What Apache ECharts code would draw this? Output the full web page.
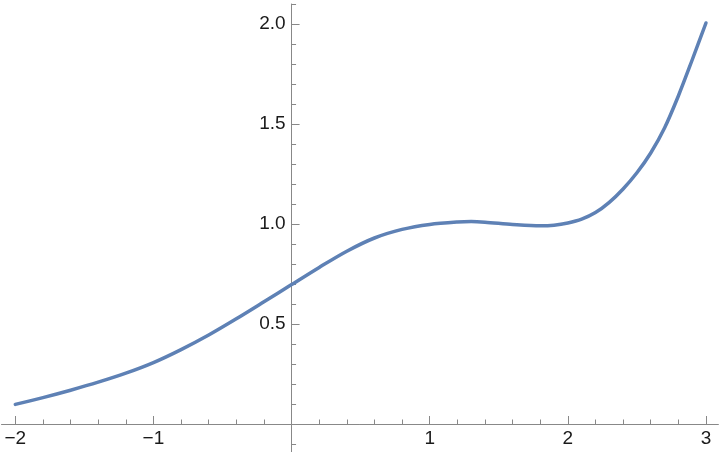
<!DOCTYPE html>
<html>
<head>
<meta charset="utf-8">
<script src="https://cdn.jsdelivr.net/npm/echarts@6/dist/echarts.min.js"></script>
<style>
html,body{margin:0;padding:0;background:#fff;}
#chart{width:720px;height:452px;}
</style>
</head>
<body>
<div id="chart"></div>
<script>
var xValues = [-2.0, -1.8, -1.6, -1.4, -1.2, -1.0, -0.8, -0.6, -0.4, -0.2, 0.0, 0.2, 0.4, 0.6, 0.8, 1.0, 1.2, 1.3, 1.4, 1.6, 1.8, 1.9, 2.0, 2.1, 2.2, 2.3, 2.4, 2.5, 2.6, 2.7, 2.8, 2.9, 3.0];
var yValues = [0.098, 0.132, 0.169, 0.209, 0.254, 0.307, 0.372, 0.445, 0.526, 0.611, 0.697, 0.783, 0.864, 0.930, 0.973, 0.998, 1.010, 1.012, 1.009, 0.998, 0.991, 0.994, 1.005, 1.024, 1.057, 1.108, 1.175, 1.256, 1.355, 1.480, 1.640, 1.820, 2.005];
var xMajorTicks = [-2, -1, 0, 1, 2, 3];
var xLabelValues = [-2, -1, 1, 2, 3];
var xMinorTicks = [-2.0, -1.8, -1.6, -1.4, -1.2, -1.0, -0.8, -0.6, -0.4, -0.2, 0.2, 0.4, 0.6, 0.8, 1.0, 1.2, 1.4, 1.6, 1.8, 2.0, 2.2, 2.4, 2.6, 2.8, 3.0];
var yMajorTicks = [0, 0.5, 1.0, 1.5, 2.0];
var yLabelValues = [0.5, 1.0, 1.5, 2.0];
var yMinorTicks = [-0.1, 0.1, 0.2, 0.3, 0.4, 0.6, 0.7, 0.8, 0.9, 1.1, 1.2, 1.3, 1.4, 1.6, 1.7, 1.8, 1.9, 2.1];

var axisColor = '#888888';
var labelFont = {color: '#1a1a1a', fontSize: 19, fontFamily: 'Liberation Sans, Arial, sans-serif'};
var X_MIN = -2.1, X_MAX = 3.09, Y_MIN = -0.14, Y_MAX = 2.1;

var W = 720, H = 452;
var G = {left: 1.5, right: 1.6, top: 4, bottom: 0};
var gridW = W - G.left - G.right, gridH = H - G.top - G.bottom;
// axes cross at the origin (Mathematica style)
var xAxisOffset = -((0 - Y_MIN) / (Y_MAX - Y_MIN)) * gridH;
var yAxisOffset = -((0 - X_MIN) / (X_MAX - X_MIN)) * gridW;

function fmtX(v) {
  var s = String(Math.round(v));
  return s.replace('-', '\u2212');
}
function fmtY(v) { return Number(v).toFixed(1); }

var data = xValues.map(function (x, i) { return [x, yValues[i]]; });

var chart = echarts.init(document.getElementById('chart'), null, {renderer: 'canvas'});
chart.setOption({
  animation: false,
  backgroundColor: '#ffffff',
  grid: {left: G.left, right: G.right, top: G.top, bottom: G.bottom, containLabel: false, outerBoundsMode: 'none'},
  xAxis: [
    {
      type: 'value', min: X_MIN, max: X_MAX, position: 'bottom', offset: xAxisOffset,
      axisLine: {show: true, onZero: false, lineStyle: {color: axisColor, width: 1}},
      axisTick: {show: true, inside: true, length: 8, customValues: xMajorTicks, lineStyle: {color: axisColor, width: 1}},
      axisLabel: {show: true, customValues: xLabelValues, formatter: fmtX, margin: 5, color: labelFont.color, fontSize: labelFont.fontSize, fontFamily: labelFont.fontFamily},
      splitLine: {show: false}
    },
    {
      type: 'value', min: X_MIN, max: X_MAX, position: 'bottom', offset: xAxisOffset,
      axisLine: {show: false, onZero: false},
      axisTick: {show: true, inside: true, length: 4.5, customValues: xMinorTicks, lineStyle: {color: axisColor, width: 1}},
      axisLabel: {show: false},
      splitLine: {show: false}
    }
  ],
  yAxis: [
    {
      type: 'value', min: Y_MIN, max: Y_MAX, position: 'left', offset: yAxisOffset,
      axisLine: {show: true, onZero: false, lineStyle: {color: axisColor, width: 1}},
      axisTick: {show: true, inside: true, length: 8, customValues: yMajorTicks, lineStyle: {color: axisColor, width: 1}},
      axisLabel: {show: true, customValues: yLabelValues, formatter: fmtY, margin: 6, color: labelFont.color, fontSize: labelFont.fontSize, fontFamily: labelFont.fontFamily},
      splitLine: {show: false}
    },
    {
      type: 'value', min: Y_MIN, max: Y_MAX, position: 'left', offset: yAxisOffset,
      axisLine: {show: false, onZero: false},
      axisTick: {show: true, inside: true, length: 4.5, customValues: yMinorTicks, lineStyle: {color: axisColor, width: 1}},
      axisLabel: {show: false},
      splitLine: {show: false}
    }
  ],
  series: [{
    type: 'line',
    xAxisIndex: 0, yAxisIndex: 0,
    data: data,
    smooth: 0.3,
    showSymbol: false,
    symbol: 'none',
    lineStyle: {color: '#5e81b5', width: 3.5, cap: 'round', join: 'round'},
    z: 5
  }]
});
</script>
</body>
</html>
